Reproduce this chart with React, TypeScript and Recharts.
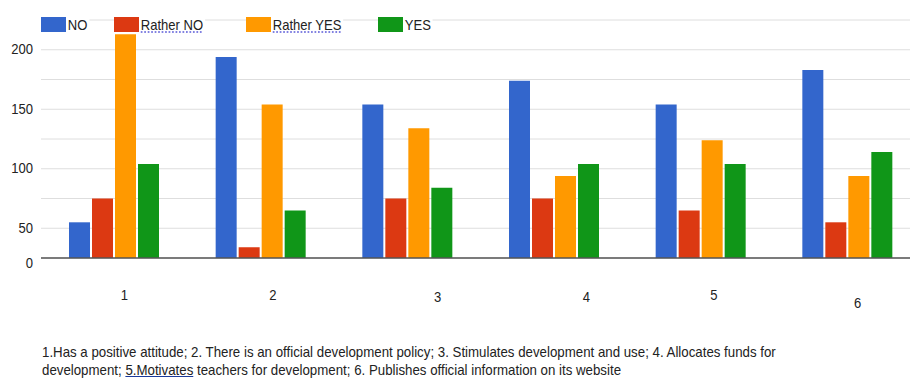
import { Bar, BarChart, CartesianGrid, Legend, XAxis, YAxis } from "recharts";

const categories = ["1", "2", "3", "4", "5", "6"];
const noValues = [55, 194, 154, 174, 154, 183];
const ratherNoValues = [75, 34, 75, 75, 65, 55];
const ratherYesValues = [213, 154, 134, 94, 124, 94];
const yesValues = [104, 65, 84, 104, 104, 114];

const seriesNames = ["NO", "Rather NO", "Rather YES", "YES"];
const seriesColors = ["#3366cc", "#dc3912", "#ff9900", "#109618"];

// the source picture labels its baseline "0" although the grid steps say 25
const yTicks = [25, 50, 75, 100, 125, 150, 175, 200, 225];
const yTickLabels: Record<number, string> = { 25: "0", 50: "50", 100: "100", 150: "150", 200: "200" };

const footnoteLine1 =
  "1.Has a positive attitude; 2. There is an official development policy; 3. Stimulates development and use; 4. Allocates funds for";
const footnoteLine2a = "development; ";
const footnoteLine2b = "5.Motivates";
const footnoteLine2c = " teachers for development; 6. Publishes official information on its website";

const data = categories.map((c, i) => ({
  name: c,
  no: noValues[i],
  ratherNo: ratherNoValues[i],
  ratherYes: ratherYesValues[i],
  yes: yesValues[i],
}));
const keys = ["no", "ratherNo", "ratherYes", "yes"];

// label nudges, the category numbers sit a little off their groups
const xNudge = [10, 12, 30, 32, 13, 10];
const yNudge = [37, 37, 39, 39, 37, 45];
const legendWidths = [73, 132, 132, 60];

const font = "'Liberation Sans', Arial, sans-serif";
const narrow = 0.87;

// eslint-disable-next-line @typescript-eslint/no-explicit-any
const XTick = ({ x, y, payload, index }: any) => (
  <text
    transform={`translate(${x + xNudge[index]},${y + yNudge[index] - 8}) scale(${narrow},1)`}
    textAnchor="middle"
    dominantBaseline="central"
    fontSize={15}
    fill="#222"
    fontFamily={font}
  >
    {payload.value}
  </text>
);

// eslint-disable-next-line @typescript-eslint/no-explicit-any
const YTick = ({ x, y, payload }: any) => {
  const label = yTickLabels[payload.value];
  if (!label) return null;
  return (
    <text
      transform={`translate(${x},${y + (payload.value === 25 ? 5 : -1)}) scale(${narrow},1)`}
      textAnchor="end"
      dominantBaseline="central"
      fontSize={15}
      fill="#222"
      fontFamily={font}
    >
      {label}
    </text>
  );
};

const LegendContent = () => (
  <div style={{ display: "flex", height: 18, fontFamily: font, fontSize: 15, color: "#222" }}>
    {seriesNames.map((n, i) => (
      <div key={n} style={{ width: legendWidths[i], display: "flex", alignItems: "center" }}>
        <div style={{ width: 25, height: 15, background: seriesColors[i] }} />
        <span
          style={{
            display: "inline-block",
            background: "#fff",
            padding: "0 2px",
            lineHeight: "17px",
            transform: `scaleX(${narrow})`,
            transformOrigin: "left center",
            textDecoration: n.startsWith("Rather") ? "underline dotted #5a5ad8" : "none",
            textUnderlineOffset: 2,
          }}
        >
          {n}
        </span>
      </div>
    ))}
  </div>
);

export default function App() {
  return (
    <div style={{ position: "absolute", left: 0, top: 0, width: 910, height: 378, overflow: "hidden", background: "#fff" }}>
      <BarChart width={921} height={378} data={data} margin={{ top: 2, right: 0, left: 0, bottom: 0 }} barGap={2} barCategoryGap={28}>
        <Legend verticalAlign="top" align="left" content={<LegendContent />} wrapperStyle={{ top: 15, left: 41, height: 18 }} />
        <CartesianGrid vertical={false} stroke="#dedede" />
        <YAxis domain={[25, 225]} ticks={yTicks} axisLine={false} tickLine={false} width={41} tick={<YTick />} interval={0} />
        <XAxis dataKey="name" height={120} tickLine={false} stroke="#555" strokeWidth={1.5} tick={<XTick />} interval={0} />
        {keys.map((k, i) => (
          <Bar key={k} dataKey={k} name={seriesNames[i]} fill={seriesColors[i]} isAnimationActive={false} />
        ))}
      </BarChart>
      <div
        style={{
          position: "absolute",
          left: 42,
          top: 343,
          fontFamily: font,
          fontSize: 15,
          lineHeight: "18px",
          color: "#222",
          whiteSpace: "nowrap",
          transform: "scaleX(0.885)",
          transformOrigin: "left top",
        }}
      >
        {footnoteLine1}
        <br />
        {footnoteLine2a}
        <span style={{ textDecoration: "underline #1a3a9a" }}>{footnoteLine2b}</span>
        {footnoteLine2c}
      </div>
    </div>
  );
}
